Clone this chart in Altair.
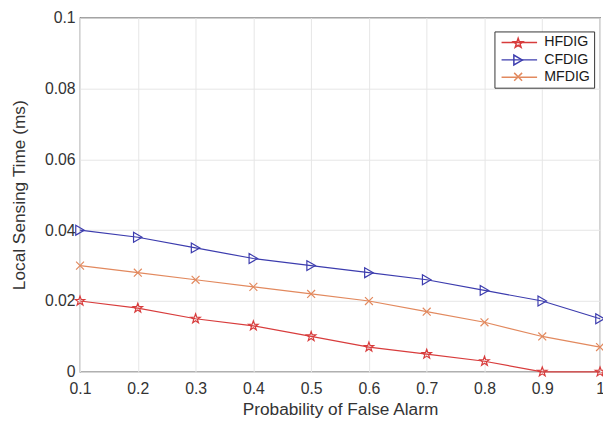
import altair as alt
import pandas as pd

# ---- data ----
pfa = [0.1, 0.2, 0.3, 0.4, 0.5, 0.6, 0.7, 0.8, 0.9, 1.0]
series = ["HFDIG", "CFDIG", "MFDIG"]
hfdig = [0.020, 0.018, 0.015, 0.013, 0.010, 0.007, 0.005, 0.003, 0.000, 0.000]
cfdig = [0.040, 0.038, 0.035, 0.032, 0.030, 0.028, 0.026, 0.023, 0.020, 0.015]
mfdig = [0.030, 0.028, 0.026, 0.024, 0.022, 0.020, 0.017, 0.014, 0.010, 0.007]
x_ticks = [0.1, 0.2, 0.3, 0.4, 0.5, 0.6, 0.7, 0.8, 0.9, 1.0]
y_ticks = [0, 0.02, 0.04, 0.06, 0.08, 0.1]

colors = ["#d83c3c", "#3c3cae", "#e2895e"]
star = ("M0,-1L0.235,-0.324L0.951,-0.309L0.380,0.124L0.588,0.809L0,0.4"
        "L-0.588,0.809L-0.380,0.124L-0.951,-0.309L-0.235,-0.324Z")
xmark = "M-0.8,-0.8L0.8,0.8M-0.8,0.8L0.8,-0.8"
shapes = [star, "triangle-right", xmark]

rows = []
for name, vals in zip(series, [hfdig, cfdig, mfdig]):
    for xv, yv in zip(pfa, vals):
        rows.append({"pfa": xv, "t": yv, "series": name})
df = pd.DataFrame(rows)

FONT = "Liberation Sans"

x = alt.X("pfa:Q",
          scale=alt.Scale(domain=[0.1, 1.0], nice=False, zero=False),
          axis=alt.Axis(values=x_ticks, format="~g", title="Probability of False Alarm",
                        labelFlush=False, labelPadding=9, titlePadding=4))
y = alt.Y("t:Q",
          scale=alt.Scale(domain=[0, 0.1], nice=False),
          axis=alt.Axis(values=y_ticks, format="~g", title="Local Sensing Time (ms)",
                        labelFlush=False, labelPadding=5, titlePadding=16))

LX, LY = 420, 14
ROW = 17

legend_lines = alt.Legend(orient="none", legendX=LX, legendY=LY, title=None, padding=4,
                          symbolType="M-0.8,0L6.4,0", symbolSize=100,
                          strokeColor="#333333", fillColor="white",
                          labelFont=FONT, labelFontSize=14.4, labelColor="#1a1a1a",
                          labelOffset=32, rowPadding=ROW - 14.4,
                          labelExpr="datum.label + '\u00a0'")

lines = alt.Chart(df).mark_line(strokeWidth=1.2).encode(
    x=x, y=y,
    color=alt.Color("series:N", scale=alt.Scale(domain=series, range=colors),
                    legend=legend_lines),
)

layers = [lines]
for i, (name, col, shp) in enumerate(zip(series, colors, shapes)):
    leg = alt.Legend(orient="none", legendX=LX + 14, legendY=LY + 2 + i * ROW,
                     title=None, padding=4, symbolSize=100, symbolStrokeColor=col,
                     symbolOpacity=1, labelExpr="''")
    pts = alt.Chart(df).transform_filter(alt.datum.series == name).mark_point(
        filled=False, size=100, strokeWidth=1.2, opacity=1, color=col
    ).encode(
        x=x, y=y,
        shape=alt.Shape("series:N", scale=alt.Scale(range=[shp]), legend=leg),
    )
    layers.append(pts)

chart = alt.layer(*layers).resolve_scale(shape="independent").properties(
    width=527, height=359,
    autosize=alt.AutoSizeParams(type="none"),
    padding={"left": 73, "top": 7, "right": 3, "bottom": 46},
).configure(font=FONT).configure_view(
    stroke="#555555", strokeWidth=1.2
).configure_axis(
    grid=True, gridColor="#e6e6e6", gridWidth=1, ticks=False, domain=False,
    labelFont=FONT, labelFontSize=16, labelColor="#333333",
    titleFont=FONT, titleFontSize=17.5, titleColor="#333333", titleFontWeight="normal",
)

chart.save("out.html", embed_options={"renderer": "svg", "actions": False})
